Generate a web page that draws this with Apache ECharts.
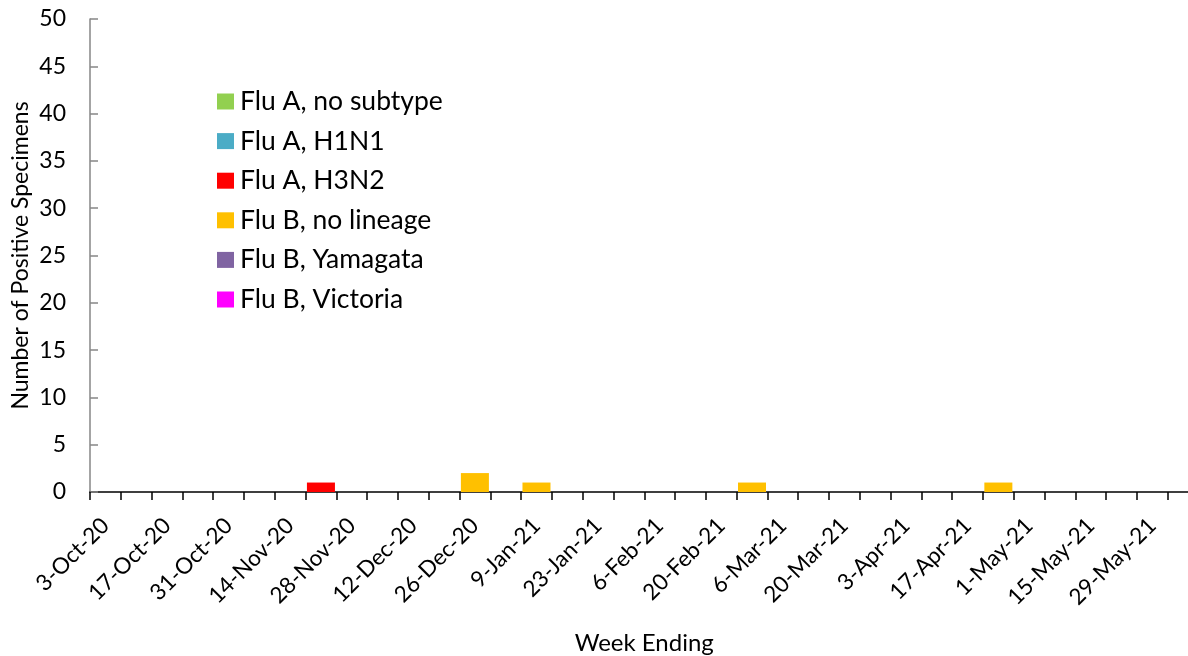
<!DOCTYPE html>
<html>
<head>
<meta charset="utf-8">
<script src="https://cdn.jsdelivr.net/npm/echarts@6/dist/echarts.min.js"></script>
<style>
html,body{margin:0;padding:0;background:#fff;}
#chart{width:1188px;height:656px;}
</style>
</head>
<body>
<div id="chart"></div>
<script>
const weeks = ['3-Oct-20','10-Oct-20','17-Oct-20','24-Oct-20','31-Oct-20','7-Nov-20','14-Nov-20','21-Nov-20','28-Nov-20','5-Dec-20','12-Dec-20','19-Dec-20','26-Dec-20','2-Jan-21','9-Jan-21','16-Jan-21','23-Jan-21','30-Jan-21','6-Feb-21','13-Feb-21','20-Feb-21','27-Feb-21','6-Mar-21','13-Mar-21','20-Mar-21','27-Mar-21','3-Apr-21','10-Apr-21','17-Apr-21','24-Apr-21','1-May-21','8-May-21','15-May-21','22-May-21','29-May-21','5-Jun-21'];
const fluANoSubtype = [0,0,0,0,0,0,0,0,0,0,0,0,0,0,0,0,0,0,0,0,0,0,0,0,0,0,0,0,0,0,0,0,0,0,0,0];
const fluAH1N1      = [0,0,0,0,0,0,0,0,0,0,0,0,0,0,0,0,0,0,0,0,0,0,0,0,0,0,0,0,0,0,0,0,0,0,0,0];
const fluAH3N2      = [0,0,0,0,0,0,0,1,0,0,0,0,0,0,0,0,0,0,0,0,0,0,0,0,0,0,0,0,0,0,0,0,0,0,0,0];
const fluBNoLineage = [0,0,0,0,0,0,0,0,0,0,0,0,2,0,1,0,0,0,0,0,0,1,0,0,0,0,0,0,0,1,0,0,0,0,0,0];
const fluBYamagata  = [0,0,0,0,0,0,0,0,0,0,0,0,0,0,0,0,0,0,0,0,0,0,0,0,0,0,0,0,0,0,0,0,0,0,0,0];
const fluBVictoria  = [0,0,0,0,0,0,0,0,0,0,0,0,0,0,0,0,0,0,0,0,0,0,0,0,0,0,0,0,0,0,0,0,0,0,0,0];
const yTicks = {min:0, max:50, interval:5};

const seriesDefs = [
  {name:'Flu A, no subtype', data:fluANoSubtype, color:'#92D050'},
  {name:'Flu A, H1N1', data:fluAH1N1, color:'#4BACC6'},
  {name:'Flu A, H3N2', data:fluAH3N2, color:'#FF0000'},
  {name:'Flu B, no lineage', data:fluBNoLineage, color:'#FFC000'},
  {name:'Flu B, Yamagata', data:fluBYamagata, color:'#8064A2'},
  {name:'Flu B, Victoria', data:fluBVictoria, color:'#FF00FF'}
];
const FONT = 'Lato';
const chart = echarts.init(document.getElementById('chart'), null, {renderer:'canvas'});
chart.setOption({
  animation:false,
  textStyle:{fontFamily:FONT},
  grid:{left:90, top:19, width:1108.5, height:473, containLabel:false, outerBoundsMode:'none'},
  legend:{
    orient:'vertical', left:212, top:83,
    itemWidth:17, itemHeight:16, itemGap:12.6,
    icon:'rect',
    textStyle:{fontFamily:FONT, fontSize:26.5, lineHeight:26, color:'#000', padding:[0,0,0,1]},
    data:seriesDefs.map(s=>s.name)
  },
  xAxis:{
    type:'category', data:weeks, boundaryGap:true,
    name:'Week Ending', nameLocation:'middle', nameGap:139, nameMoveOverlap:false,
    nameTextStyle:{fontFamily:FONT, fontSize:24, color:'#000'},
    axisLine:{lineStyle:{color:'#000', width:1.5}},
    axisTick:{show:true, interval:0, alignWithLabel:false, length:8, lineStyle:{color:'#000', width:1.5}},
    axisLabel:{interval:1, rotate:45, fontSize:22.5, color:'#000', margin:30, fontFamily:FONT}
  },
  yAxis:{
    type:'value', min:yTicks.min, max:yTicks.max, interval:yTicks.interval,
    name:'Number of Positive Specimens', nameLocation:'middle', nameGap:58, nameRotate:90, nameMoveOverlap:false,
    nameTextStyle:{fontFamily:FONT, fontSize:23, color:'#000'},
    axisLine:{show:true, lineStyle:{color:'#868686', width:1.5}},
    axisTick:{show:true, inside:true, length:8, lineStyle:{color:'#868686', width:1.5}},
    axisLabel:{fontSize:23, color:'#000', margin:24, fontFamily:FONT},
    splitLine:{show:false}
  },
  series:seriesDefs.map(s=>({
    name:s.name, type:'bar', stack:'total', data:s.data,
    barCategoryGap:'9%',
    itemStyle:{color:s.color}
  }))
});
</script>
</body>
</html>
